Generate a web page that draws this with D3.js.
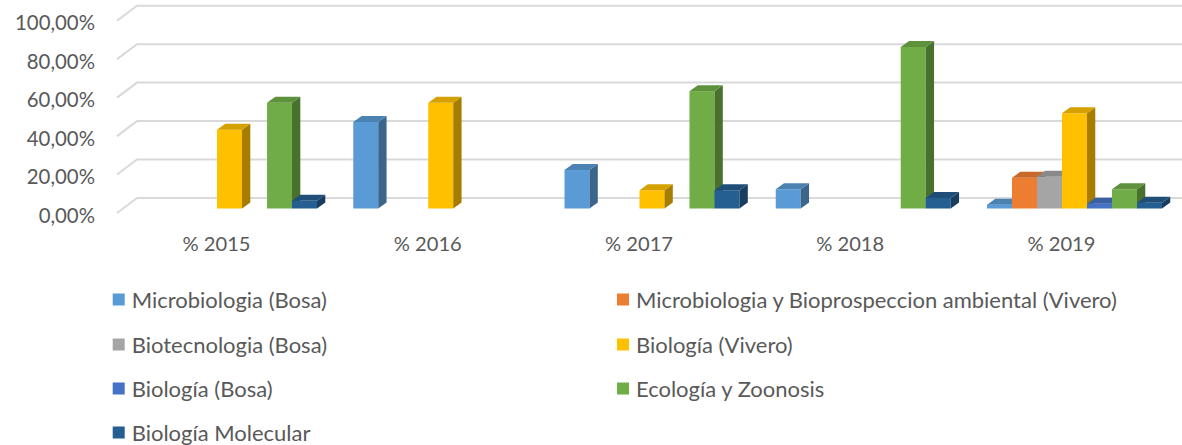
<!DOCTYPE html>
<html>
<head>
<meta charset="utf-8">
<script src="https://cdn.jsdelivr.net/npm/d3@7/dist/d3.min.js"></script>
<style>
  html, body { margin: 0; padding: 0; background: #fff; }
  svg { display: block; }
</style>
</head>
<body>
<svg id="chart" width="1182" height="445"></svg>
<script>
// ---------- DATA ----------
const categories = ["% 2015", "% 2016", "% 2017", "% 2018", "% 2019"];
const seriesNames = [
  "Microbiologia (Bosa)",
  "Microbiologia y Bioprospeccion ambiental (Vivero)",
  "Biotecnologia (Bosa)",
  "Biología (Vivero)",
  "Biología (Bosa)",
  "Ecología y Zoonosis",
  "Biología Molecular"
];
const seriesColors = ["#5B9BD5", "#ED7D31", "#A5A5A5", "#FFC000", "#4472C4", "#70AD47", "#255E91"];
// values in percent, one array per series across the categories
const microbiologiaBosa   = [0, 45, 20, 10, 2];
const microbiologiaVivero = [0, 0, 0, 0, 16];
const biotecnologiaBosa   = [0, 0, 0, 0, 16.5];
const biologiaVivero      = [41, 55, 9.5, 0, 49.5];
const biologiaBosa        = [0, 0, 0, 0, 2.5];
const ecologiaZoonosis    = [55, 0, 61, 84, 10];
const biologiaMolecular   = [4, 0, 9.5, 5.5, 3];
const seriesValues = [microbiologiaBosa, microbiologiaVivero, biotecnologiaBosa,
  biologiaVivero, biologiaBosa, ecologiaZoonosis, biologiaMolecular];
const yTicks = [0, 20, 40, 60, 80, 100];
const tickLabels = ["0,00%", "20,00%", "40,00%", "60,00%", "80,00%", "100,00%"];

// ---------- LAYOUT ----------
const svg = d3.select("#chart");
const FONT = "Lato, 'Open Sans', sans-serif";
const TEXT = "#595959";

function fitSize(text, target) {
  const t = svg.append("text").attr("font-family", FONT).attr("font-size", 100).text(text);
  const w = t.node().getComputedTextLength();
  t.remove();
  return 100 * target / w;
}
const tickSize = fitSize("100,00%", 80);
const catSize = fitSize("% 2015", 68);
const legSize = fitSize("Microbiologia y Bioprospeccion ambiental (Vivero)", 481);

const y = d3.scaleLinear().domain([0, 100]).range([208.5, 16.2]);
const x = d3.scaleBand().domain(categories).range([123.9, 1180.1])
  .paddingInner(0.1716).paddingOuter(0.0858);
const xs = d3.scaleBand().domain(d3.range(seriesNames.length)).range([0, x.bandwidth()]);

// depth offsets
const wallDx = 20, wallDy = -15, wallFrontX = 117;
const wallShiftY = -10.5; // back wall relative to bar front plane
const bdx = 8.3, bdy = -6;

// gridlines (back wall + left side wall)
const grid = svg.append("g");
yTicks.forEach(v => {
  const yb = y(v) + wallShiftY;
  grid.append("path")
    .attr("d", `M${wallFrontX},${yb - wallDy} L${wallFrontX + wallDx},${yb} L1182,${yb}`)
    .attr("fill", "none").attr("stroke", "#d9d9d9").attr("stroke-width", 2);
});

// y tick labels
svg.append("g").selectAll("text").data(yTicks).join("text")
  .attr("x", 95).attr("y", (d) => y(d) + 6)
  .attr("text-anchor", "end").attr("dominant-baseline", "central")
  .attr("font-family", FONT).attr("font-size", tickSize).attr("fill", TEXT)
  .text((d, i) => tickLabels[i]);

// bars
const bars = svg.append("g");
categories.forEach((cat, ci) => {
  seriesValues.forEach((vals, si) => {
    const v = vals[ci];
    if (!v) return;
    const x0 = x(cat) + xs(si), w = xs.bandwidth();
    const yt = y(v), yb = y(0);
    const base = d3.color(seriesColors[si]);
    // front
    bars.append("rect").attr("x", x0).attr("y", yt).attr("width", w).attr("height", yb - yt)
      .attr("fill", base.formatHex());
    // side
    bars.append("path")
      .attr("d", `M${x0 + w},${yt} L${x0 + w + bdx},${yt + bdy} L${x0 + w + bdx},${yb + bdy} L${x0 + w},${yb} Z`)
      .attr("fill", base.darker(1.2).formatHex());
    // top
    bars.append("path")
      .attr("d", `M${x0},${yt} L${x0 + bdx},${yt + bdy} L${x0 + w + bdx},${yt + bdy} L${x0 + w},${yt} Z`)
      .attr("fill", base.darker(0.5).formatHex());
  });
});

// category labels
svg.append("g").selectAll("text").data(categories).join("text")
  .attr("x", d => x(d) + x.bandwidth() / 2 - 13).attr("y", 243)
  .attr("text-anchor", "middle").attr("dominant-baseline", "central")
  .attr("font-family", FONT).attr("font-size", catSize).attr("fill", TEXT)
  .text(d => d);

// legend
const legendCols = [112.7, 617];
const legendRows = [299.5, 344.5, 388.5, 432.5];
const leg = svg.append("g");
seriesNames.forEach((name, i) => {
  const cx = legendCols[i % 2], cy = legendRows[Math.floor(i / 2)];
  leg.append("rect").attr("x", cx).attr("y", cy - 6).attr("width", 12).attr("height", 12)
    .attr("fill", seriesColors[i]);
  leg.append("text").attr("x", cx + 19).attr("y", cy)
    .attr("dominant-baseline", "central")
    .attr("font-family", FONT).attr("font-size", legSize).attr("fill", TEXT)
    .text(name);
});
</script>
</body>
</html>
